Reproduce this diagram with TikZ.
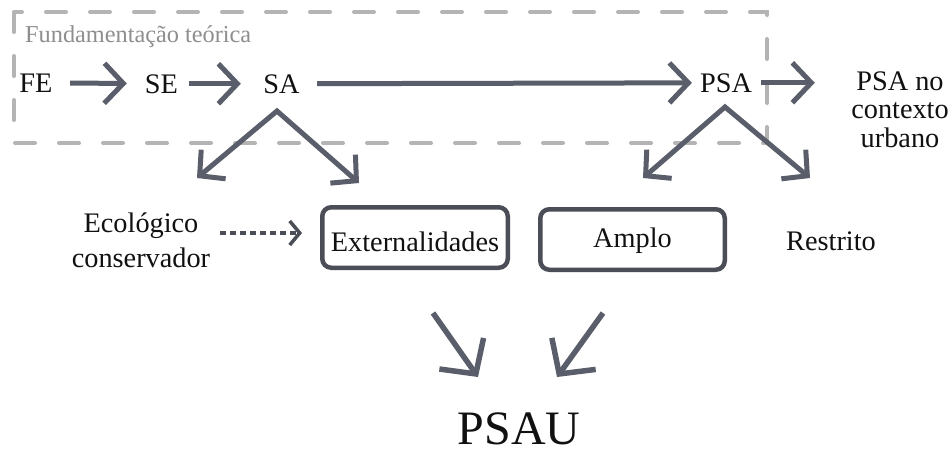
\documentclass[tikz,border=0pt]{standalone}
\usepackage{fontspec}
\setmainfont{Liberation Serif}
\usetikzlibrary{arrows.meta}
\definecolor{arrc}{HTML}{5A5E6A}
\definecolor{boxc}{HTML}{4B4E57}
\definecolor{dashc}{HTML}{B4B4B4}
\definecolor{lblc}{HTML}{8E8E8E}
\definecolor{txtc}{HTML}{111111}
\begin{document}
\begin{tikzpicture}[x=1pt,y=-1pt,
  txt/.style={inner sep=0pt, text=txtc, font=\fontsize{28.3}{34}\selectfont},
  arr/.style={draw=arrc, line width=5pt, -{Straight Barb[length=19pt,width=40pt]}},
  darr/.style={draw=arrc, line width=5pt, line join=miter, {Straight Barb[length=18pt,width=38pt]}-{Straight Barb[length=18pt,width=38pt]}},
  bigarr/.style={draw=arrc, line width=5.5pt, -{Straight Barb[length=25pt,width=54pt]}},
  dotarr/.style={draw=boxc, line width=3.5pt, dash pattern=on 6pt off 4pt, -{Straight Barb[length=10pt,width=24pt]}},
  boxnode/.style={txt, draw=boxc, line width=4.5pt, rounded corners=9pt},
  dashbox/.style={draw=dashc, line width=4pt, line cap=round, dash pattern=on 20pt off 24pt}
]
\useasboundingbox (0,0) rectangle (950,450);
\fill[white] (0,0) rectangle (950,450);

% frame
\draw[dashbox] (14,12) rectangle (767,143);
\node[anchor=base west, inner sep=0pt, text=lblc, font=\fontsize{24.3}{29}\selectfont] (fund) at (25,42) {Fundamentação teórica};

% top row
\node[txt, anchor=base] (FE) at (36,92) {FE};
\node[txt, anchor=base] (SE) at (161.5,93) {SE};
\node[txt, anchor=base] (SA) at (281.5,93) {SA};
\node[txt, anchor=base] (PSA) at (726,92) {PSA};
\node[txt, anchor=base, align=center, font=\fontsize{28.3}{28.5}\selectfont] (ctx) at (900,147) {PSA no\\contexto\\urbano};

\draw[arr, shorten <=17.5pt, shorten >=18pt] (FE) -- (SE);
\draw[arr, shorten <=10.5pt, shorten >=22.4pt] (SE) -- (SA);
\draw[arr, shorten <=17.4pt, shorten >=8pt] (SA) -- (PSA);
\draw[arr, shorten <=9pt, shorten >=36.3pt] (PSA.east) -- (PSA.east -| ctx.west);

% diverging arrows
\coordinate (saApex) at (277,111);
\coordinate (saL) at (197,178);
\coordinate (saR) at (359,183);
\draw[darr] (saL) -- (saApex) -- (saR);
\coordinate (psaApex) at (725,107);
\coordinate (psaL) at (643,178);
\coordinate (psaR) at (810,178);
\draw[darr] (psaL) -- (psaApex) -- (psaR);

% middle row
\node[txt, anchor=base, align=center, font=\fontsize{28.3}{35}\selectfont] (eco) at (141,267) {Ecológico\\conservador};
\node[boxnode, minimum width=185.5pt, minimum height=60.5pt, text height=28pt, text depth=0pt] (ext) at (415,237.5) {Externalidades};
\node[boxnode, minimum width=184.5pt, minimum height=60.5pt, text height=22pt, text depth=6pt] (amp) at (632.5,239.5) {Amplo};
\node[txt, anchor=base] (res) at (831,250) {Restrito};

\coordinate (d1) at (220,233);
\coordinate (d2) at (302,233);
\draw[dotarr] (d1) -- (d2);

% bottom
\node[txt, anchor=base, font=\fontsize{48}{50}\selectfont] (psau) at (519,444) {PSAU};
\coordinate (b1) at (433,313);
\coordinate (b1t) at (478,377);
\coordinate (b2) at (603,313);
\coordinate (b2t) at (557,377);
\draw[bigarr] (b1) -- (b1t);
\draw[bigarr] (b2) -- (b2t);
\end{tikzpicture}
\end{document}
